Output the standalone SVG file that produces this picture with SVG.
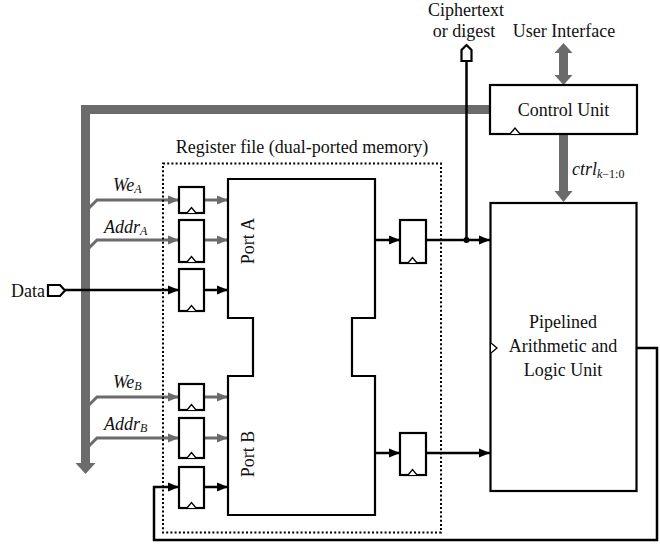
<svg xmlns="http://www.w3.org/2000/svg" width="660" height="546" viewBox="0 0 660 546">
<defs>
<marker id="ab" markerUnits="userSpaceOnUse" markerWidth="12" markerHeight="10" refX="11" refY="5" orient="auto"><path d="M0,0.5 L11,5 L0,9.5 Z" fill="#000"/></marker>
<marker id="ag" markerUnits="userSpaceOnUse" markerWidth="12" markerHeight="10" refX="11" refY="5" orient="auto"><path d="M0,0.5 L11,5 L0,9.5 Z" fill="#6b6b6b"/></marker>
</defs>
<style>
text{font-family:"Liberation Serif","Times New Roman",serif;font-size:18px;fill:#111}
.it{font-style:italic}
.up{font-style:normal}
.sub{font-size:12px}
.box{fill:#fff;stroke:#000;stroke-width:2.2}
.clk{fill:#fff;stroke:#000;stroke-width:1.3}
.w{fill:none;stroke:#000;stroke-width:2.5}
.g{fill:none;stroke:#6b6b6b;stroke-width:3}
.bus{fill:none;stroke:#6b6b6b;stroke-width:9}
.busfill{fill:#6b6b6b}
</style>
<rect width="660" height="546" fill="#fff"/>

<g id="connectors">
<path class="bus" d="M490,109.5 H85.5 V464"/>
<path class="busfill" d="M75.5,463 L95.5,463 L85.5,474 Z"/>
<path class="bus" d="M563.5,52 V76" stroke-width="8"/>
<path class="busfill" d="M554.5,53 L572.5,53 L563.5,43 Z"/>
<path class="busfill" d="M554.5,75 L572.5,75 L563.5,85 Z"/>
<path class="bus" d="M563.5,134 V192" stroke-width="8"/>
<path class="busfill" d="M554.5,191 L572.5,191 L563.5,202 Z"/>
<path class="g" d="M89,208 L97,200 H179" marker-end="url(#ag)"/>
<path class="g" d="M89,248 L97,240 H179" marker-end="url(#ag)"/>
<path class="g" d="M204,200 H228" marker-end="url(#ag)"/>
<path class="g" d="M204,240 H228" marker-end="url(#ag)"/>
<path class="g" d="M89,405 L97,397 H179" marker-end="url(#ag)"/>
<path class="g" d="M89,446 L97,438 H179" marker-end="url(#ag)"/>
<path class="g" d="M204,397 H228" marker-end="url(#ag)"/>
<path class="g" d="M204,438 H228" marker-end="url(#ag)"/>
<path class="w" d="M65,290 H179" marker-end="url(#ab)"/>
<path class="w" d="M204,290 H228" marker-end="url(#ab)"/>
<path class="w" d="M204,487 H228" marker-end="url(#ab)"/>
<path class="w" d="M375,240 H400" marker-end="url(#ab)"/>
<path class="w" d="M375,453 H400" marker-end="url(#ab)"/>
<path class="w" d="M426,240 H490" marker-end="url(#ab)"/>
<path class="w" d="M426,453 H490" marker-end="url(#ab)"/>
<path class="w" d="M466.5,61 V240"/>
<circle cx="466.5" cy="240" r="3" fill="#000"/>
<path class="w" d="M636,348 H657 V540 H154 V487 H179" marker-end="url(#ab)"/>
</g>

<g id="register-file">
<rect x="163" y="163.5" width="278" height="369" fill="none" stroke="#000" stroke-width="2" stroke-dasharray="2,2.2"/>
<text x="302" y="153" text-anchor="middle">Register file (dual-ported memory)</text>
</g>

<g id="memory">
<path class="box" d="M228,179 H375 V318 H352 V376 H375 V515 H228 V376 H253 V318 H228 Z"/>
<text transform="translate(254,241) rotate(-90)" text-anchor="middle">Port A</text>
<text transform="translate(254,454) rotate(-90)" text-anchor="middle">Port B</text>
</g>

<g id="reg-we-a"><rect class="box" x="179" y="187" width="25" height="26"/><path class="clk" d="M187,213 L191.5,207.5 L196,213"/></g>
<g id="reg-addr-a"><rect class="box" x="179" y="220" width="25" height="42"/><path class="clk" d="M187,262 L191.5,256.5 L196,262"/></g>
<g id="reg-data-a"><rect class="box" x="179" y="269" width="25" height="42"/><path class="clk" d="M187,311 L191.5,305.5 L196,311"/></g>
<g id="reg-we-b"><rect class="box" x="179" y="384" width="25" height="26"/><path class="clk" d="M187,410 L191.5,404.5 L196,410"/></g>
<g id="reg-addr-b"><rect class="box" x="179" y="418" width="25" height="40"/><path class="clk" d="M187,458 L191.5,452.5 L196,458"/></g>
<g id="reg-data-b"><rect class="box" x="179" y="467" width="25" height="41"/><path class="clk" d="M187,508 L191.5,502.5 L196,508"/></g>
<g id="reg-out-a"><rect class="box" x="400" y="220" width="26" height="43"/><path class="clk" d="M408,263 L412.5,257.5 L417,263"/></g>
<g id="reg-out-b"><rect class="box" x="400" y="433" width="26" height="42"/><path class="clk" d="M408,475 L412.5,469.5 L417,475"/></g>

<g id="control-unit">
<rect class="box" x="490" y="85" width="147" height="49"/>
<path class="clk" d="M510,134 L515,128 L520,134"/>
<text x="563.5" y="116" text-anchor="middle">Control Unit</text>
</g>

<g id="alu">
<rect class="box" x="490.5" y="203" width="146" height="288"/>
<path class="clk" d="M491,343 L497,348 L491,353"/>
<text x="563" y="328" text-anchor="middle">Pipelined</text>
<text x="563" y="352" text-anchor="middle">Arithmetic and</text>
<text x="563" y="376" text-anchor="middle">Logic Unit</text>
</g>

<g id="data-port">
<path class="box" d="M48,285 H60 L65,290.5 L60,296 H48 Z" stroke-width="2"/>
<text x="45" y="297" text-anchor="end">Data</text>
</g>

<g id="ciphertext-port">
<path class="box" d="M461.5,61 V50 L466.5,45 L471.5,50 V61 Z" stroke-width="2"/>
<text x="466" y="16" text-anchor="middle">Ciphertext</text>
<text x="464" y="37" text-anchor="middle">or digest</text>
</g>

<g id="labels">
<text x="564" y="37" text-anchor="middle">User Interface</text>
<text x="572" y="175" class="it">ctrl<tspan class="sub" dy="3">k</tspan><tspan class="sub up">−1:0</tspan></text>
<text x="113" y="191" class="it">We<tspan class="sub" dy="2">A</tspan></text>
<text x="104" y="233" class="it">Addr<tspan class="sub" dy="2">A</tspan></text>
<text x="113" y="388" class="it">We<tspan class="sub" dy="2">B</tspan></text>
<text x="104" y="430" class="it">Addr<tspan class="sub" dy="2">B</tspan></text>
</g>
</svg>
